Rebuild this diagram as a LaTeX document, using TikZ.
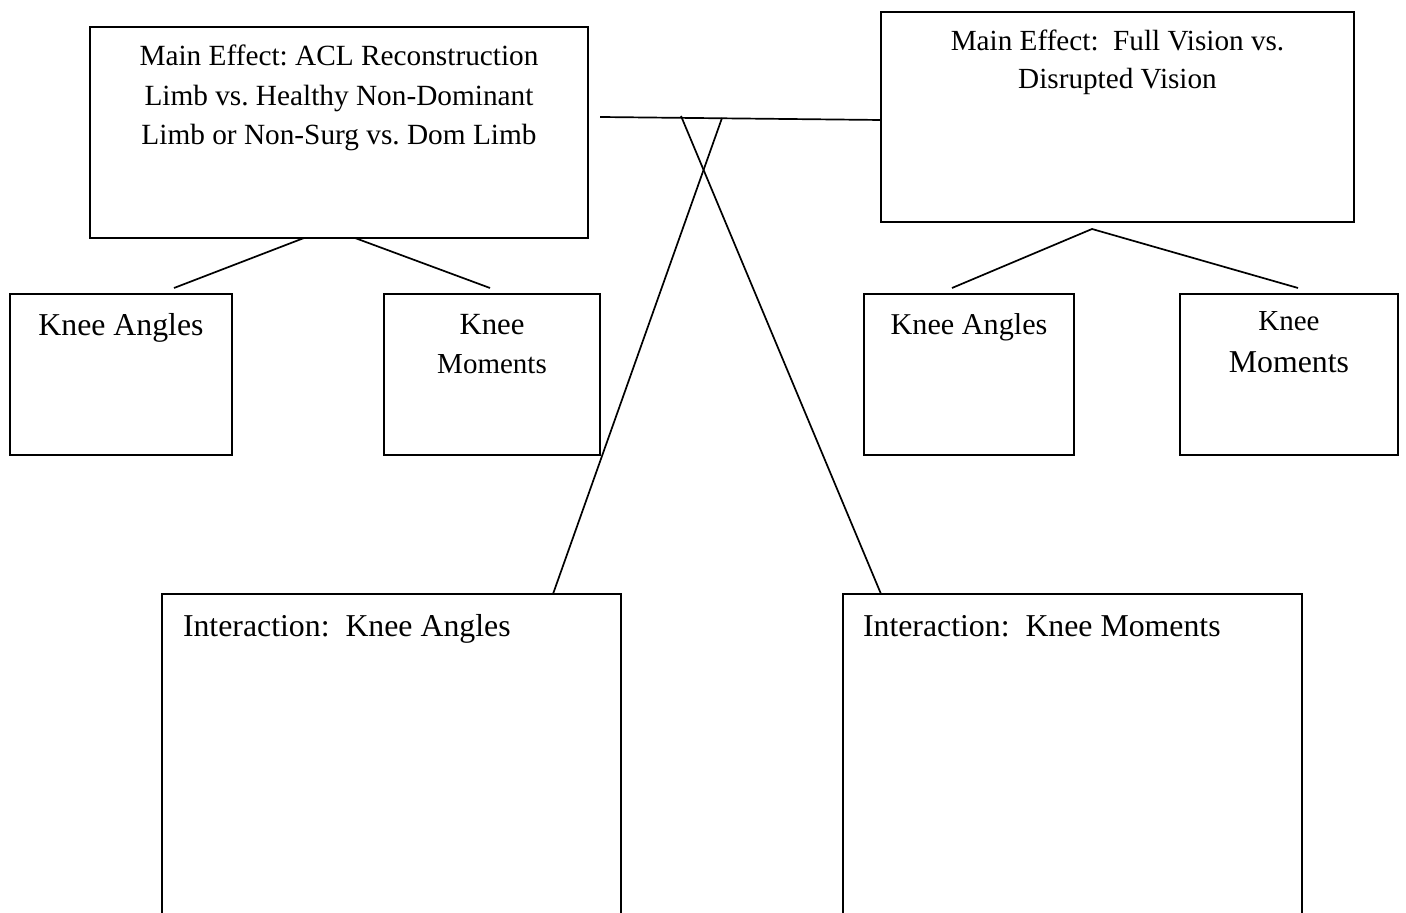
\documentclass[tikz,border=0pt]{standalone}
\usepackage{fontspec}
\setmainfont{Liberation Serif}
\usetikzlibrary{calc}
\frenchspacing
\begin{document}
\begin{tikzpicture}[x=0.5pt,y=-0.5pt, line width=0.9pt,
  box/.style={draw, rectangle, inner sep=0pt, outer sep=0pt, line width=0.9pt},
  txt/.style={inner sep=0pt, outer sep=0pt, align=center},
  conn/.style={draw, line width=0.85pt}]
\useasboundingbox (0,0) rectangle (1406,913);
\clip (0,0) rectangle (1406,913);
% boxes
\node[box, minimum width=249pt, minimum height=105.5pt] (mA) at (339,132.5) {};
\node[box, minimum width=236.5pt, minimum height=105pt] (mB) at (1117.5,117) {};
\node[box, minimum width=111pt, minimum height=80.5pt] (kaL) at (121,374.5) {};
\node[box, minimum width=108pt, minimum height=80.5pt] (kmL) at (492,374.5) {};
\node[box, minimum width=105pt, minimum height=80.5pt] (kaR) at (969,374.5) {};
\node[box, minimum width=109pt, minimum height=80.5pt] (kmR) at (1289,374.5) {};
\node[box, minimum width=229.5pt, minimum height=183pt] (iA) at (391.5,777) {};
\node[box, minimum width=229.5pt, minimum height=183pt] (iB) at (1072.5,777) {};
% texts
\node[txt, anchor=north, font=\fontsize{14.65}{19.75}\selectfont] (tA) at (339,45)
  {Main Effect: ACL Reconstruction\\Limb vs. Healthy Non-Dominant\\Limb or Non-Surg vs. Dom Limb};
\node[txt, anchor=north, font=\fontsize{14.6}{19}\selectfont] (tB) at (1117.5,30)
  {Main Effect:\ \ Full Vision vs.\\Disrupted Vision};
\node[txt, anchor=base, font=\fontsize{15.9}{19.5}\selectfont] (tkaL) at (121,336) {Knee Angles};
\node[txt, anchor=north, font=\fontsize{15}{19.5}\selectfont] (tkmL) at (492,314.6)
  {{\fontsize{15.4}{19.5}\selectfont Knee}\\{\fontsize{14.5}{19.5}\selectfont Moments}};
\node[txt, anchor=base, font=\fontsize{15.1}{19.5}\selectfont] (tkaR) at (969,335) {Knee Angles};
\node[txt, anchor=north, font=\fontsize{15}{21}\selectfont] (tkmR) at (1289,311.8)
  {{\fontsize{14.5}{21}\selectfont Knee}\\{\fontsize{15.9}{21}\selectfont Moments}};
\node[txt, anchor=base west, font=\fontsize{15.9}{19.5}\selectfont] (tiA) at (183,636) {Interaction:\ \ Knee Angles};
\node[txt, anchor=base west, font=\fontsize{15.9}{19.5}\selectfont] (tiB) at (863,636) {Interaction:\ \ Knee Moments};
% connectors
\coordinate (hl) at (600,117);
\draw[conn] (hl) -- ([yshift=-1.5pt]mB.west);
\coordinate (x1) at (681,116);
\coordinate (x2) at (722,118);
\draw[conn] (x1) -- ([xshift=19pt]iB.north west);
\draw[conn] (x2) -- ([xshift=-34pt]iA.north east);
\draw[conn] ([xshift=-17.5pt]mA.south) -- ([xshift=26.5pt,yshift=3pt]kaL.north);
\draw[conn] ([xshift=8pt]mA.south) -- ([xshift=-1pt,yshift=3pt]kmL.north);
\coordinate (apx) at ([xshift=-12.75pt,yshift=-3.5pt]mB.south);
\draw[conn] ([xshift=-8.5pt,yshift=3pt]kaR.north) -- (apx) -- ([xshift=4.5pt,yshift=3pt]kmR.north);
\end{tikzpicture}
\end{document}
